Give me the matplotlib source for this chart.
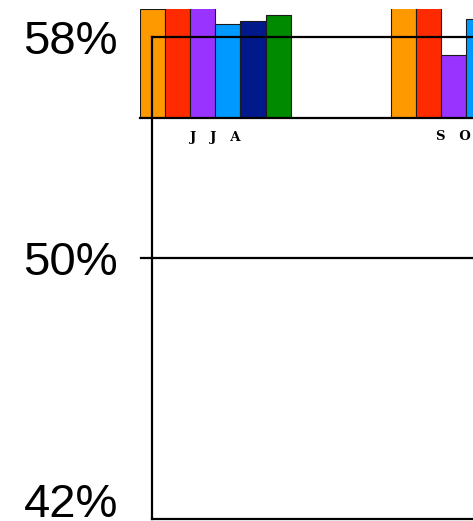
import numpy as np
import matplotlib
matplotlib.use("Agg")
import matplotlib.pyplot as plt

# ---- data ----
seasons = ["JJA", "SON"]
season_labels = ["J   J   A", "S   O   N"]
series_names = ["S1", "S2", "S3", "S4", "S5", "S6"]
series_colors = ["#ff9900", "#ff2a00", "#9933ff", "#0099ff", "#001a8c", "#008a00"]
values = {
    "S1": [99.6, 104.0],
    "S2": [104.0, 104.0],
    "S3": [104.0, 57.8],
    "S4": [86.2, 90.8],
    "S5": [89.0, 88.0],
    "S6": [94.5, 92.0],
}
main_yticks = [42, 50, 58]
main_yticklabels = ["42%", "50%", "58%"]
ref_line = 50

W, H = 473, 521
fig = plt.figure(figsize=(W / 100, H / 100), dpi=100)

def rect(x0, y0, x1, y1):
    return [x0 / W, (H - y1) / H, (x1 - x0) / W, (y1 - y0) / H]

# ---- inset bar axes (drawn first, underneath) ----
bx = fig.add_axes(rect(140, 9, 642, 118), zorder=1)
bar_w = 0.1
x = np.arange(len(seasons))
n = len(series_names)
for i, (name, col) in enumerate(zip(series_names, series_colors)):
    offs = (i - (n - 1) / 2) * bar_w
    bx.bar(x + offs, values[name], width=bar_w, color=col,
           edgecolor="#1a1a1a", linewidth=0.8)
bx.set_xlim(-0.3, 1.7)
bx.set_ylim(0, 100)
bx.set_yticks([])
bx.set_xticks(x)
bx.set_xticklabels(season_labels, fontsize=9.5, family="DejaVu Serif",
                   fontweight="semibold")
bx.tick_params(axis="x", length=0, pad=9)
for s in ["top", "left", "right"]:
    bx.spines[s].set_visible(False)
bx.spines["bottom"].set_linewidth(1.6)
bx.patch.set_alpha(0)

# ---- main axes ----
ax = fig.add_axes(rect(152, 37, 900, 519), zorder=2)
ax.patch.set_alpha(0)

def fwd(v):
    v = np.asarray(v, dtype=float)
    return np.where(v >= 50, (v - 50) / 8 * 221, (v - 50) / 8 * 242)

def inv(u):
    u = np.asarray(u, dtype=float)
    return np.where(u >= 0, 50 + u * 8 / 221, 50 + u * 8 / 242)

ax.set_yscale("function", functions=(fwd, inv))
ax.set_ylim(41.372, 58)
ax.set_xlim(0, 1)
ax.set_yticks(main_yticks)
ax.set_yticklabels(main_yticklabels, fontsize=34, family="Liberation Sans")
ax.tick_params(axis="y", length=0, pad=24.5)
ax.set_xticks([])
ax.yaxis.set_minor_locator(matplotlib.ticker.NullLocator())
for s in ["top", "left", "bottom", "right"]:
    ax.spines[s].set_linewidth(1.6)
    ax.spines[s].set_color("black")

ax_w_px = 900 - 152
ax.axhline(ref_line, xmin=-11 / ax_w_px, xmax=1, color="black",
           linewidth=1.6, clip_on=False)

fig.savefig("out.png", dpi=100)
